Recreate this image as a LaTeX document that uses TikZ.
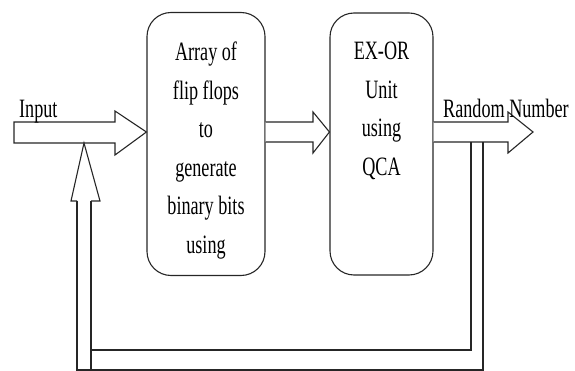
\documentclass[tikz,border=0pt]{standalone}
\usepackage{fontspec}
\setmainfont{Liberation Serif}[FakeStretch=0.685]
\begin{document}
\begin{tikzpicture}[x=1pt,y=-1pt,
  ln/.style={draw=black!85,line width=1.1pt},
  blk/.style={ln,rounded corners=24pt,minimum width=118pt,minimum height=263pt,inner sep=0pt},
  txt/.style={font=\fontsize{26.5}{38.5}\selectfont,inner sep=0pt,align=center},
  lbl/.style={font=\fontsize{26.5}{32}\selectfont,inner sep=0pt},
  barrow/.style={ln,fill=white,line join=miter}]
\useasboundingbox (0,0) rectangle (575,371);
% blocks
\node[blk] (ff) at (206,144) {};
\node[blk,minimum width=103pt,minimum height=262pt] (xor) at (381.5,144) {};
\node[txt,anchor=north] (fft) at (206,42) {Array of\\flip flops\\to\\generate\\binary bits\\using};
\node[txt,anchor=north] (xort) at (381.5,42) {EX-OR\\Unit\\using\\QCA};
% input block arrow
\coordinate (inS) at (14,132);
\draw[barrow] (14,122) -- (115,122) -- (115,111) -- (ff.west |- inS) -- (115,155) -- (115,143) -- (14,143) -- cycle;
% middle block arrow
\draw[barrow] (ff.east |- 0,122) -- (313,122) -- (313,112) -- (xor.west |- inS) -- (313,153) -- (313,142) -- (ff.east |- 0,142);
% output block arrow
\draw[barrow] (xor.east |- 0,122) -- (508,122) -- (508,112) -- (533,132) -- (508,153) -- (508,142) -- (xor.east |- 0,142);
% feedback lines
\draw[ln] (77,201) -- (77,370) -- (483,370) -- (483,142);
\draw[ln] (91,201) -- (91,370);
\draw[ln] (91,350) -- (471,350) -- (471,142);
% upward block arrow head
\draw[barrow] (77,201) -- (71,201) -- (84,143) -- (100,201) -- (91,201);
% labels
\node[lbl,anchor=base west] (inl) at (19,118) {Input};
\node[lbl,anchor=base west] (outl) at (443,118) {Random Number};
\end{tikzpicture}
\end{document}
